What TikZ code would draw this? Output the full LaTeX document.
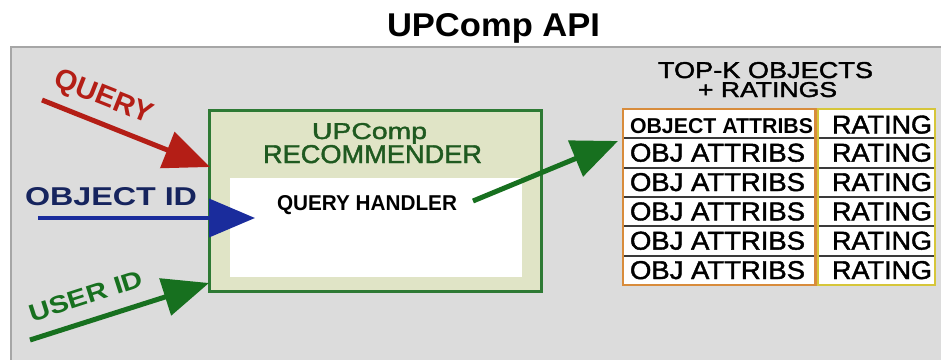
\documentclass[tikz,border=0pt]{standalone}
\usepackage{fontspec}
\setmainfont{Liberation Sans}
\newfontfamily\medfont[FakeBold=1.6]{Liberation Sans}
\usepackage{graphicx}
\usetikzlibrary{arrows.meta}
\definecolor{panelgray}{HTML}{DCDCDC}
\definecolor{paneledge}{HTML}{A6A6A6}
\definecolor{qred}{HTML}{B41E16}
\definecolor{oblue}{HTML}{1A2C9C}
\definecolor{onavy}{HTML}{16245E}
\definecolor{ugreen}{HTML}{17701F}
\definecolor{boxgreen}{HTML}{2E7A34}
\definecolor{boxfill}{HTML}{E0E4C6}
\definecolor{txtgreen}{HTML}{1F5A20}
\definecolor{colorange}{HTML}{D88C3C}
\definecolor{colyellow}{HTML}{D6C63A}
\definecolor{rowgray}{HTML}{3A3A3A}
\newcommand\fitt[3]{\resizebox{#1pt}{#2pt}{#3}}
\tikzset{
  txt/.style={inner sep=0pt, outer sep=0pt, anchor=base west},
  rtxt/.style={inner sep=0pt, outer sep=0pt, anchor=center},
  bigarrow/.style={line width=5pt, -{Triangle[length=46pt,width=38pt]}},
  rowline/.style={draw=rowgray, line width=1.8pt},
}
\begin{document}
\begin{tikzpicture}[x=1pt,y=-1pt]
\useasboundingbox (0,0) rectangle (941,359);
\fill[white] (0,0) rectangle (941,359);
% panel
\draw[fill=panelgray, draw=paneledge, line width=2.6pt] (11,47) rectangle (960,380);
% title
\node[txt] (title) at (387,36) {\fitt{213}{23}{\bfseries UPComp API}};
% recommender box
\draw[fill=boxfill, draw=boxgreen, line width=3pt] (209,110) rectangle (541,291);
\node[inner sep=0pt, fill=white, minimum width=292pt, minimum height=99pt, anchor=north west] (handler) at (230,178) {};
\node[txt, text=txtgreen] (upcomp) at (312,139) {\fitt{115}{16}{\medfont UPComp}};
\node[txt, text=txtgreen] (recom) at (263,163) {\fitt{219}{18}{\medfont RECOMMENDER}};
\node[txt] (qh) at (277,210) {\fitt{180}{15}{\bfseries QUERY HANDLER}};
% table header
\node[txt] (topk) at (658,78) {\fitt{215}{16}{\medfont TOP-K OBJECTS}};
\node[txt] (plusr) at (698,97) {\fitt{139}{15}{\medfont + RATINGS}};
% table
\fill[white] (623,109) rectangle (935,285);
\foreach \yy in {138.3,167.7,197,226.3,255.7} {\draw[rowline] (623,\yy) -- (935,\yy);}
\draw[draw=colorange, line width=2.8pt] (623,109) rectangle (815.5,285);
\draw[draw=colyellow, line width=2.8pt] (818,109) rectangle (935,285);
\node[txt] (a1) at (630,133) {\fitt{183}{15}{\bfseries OBJECT ATTRIBS}};
\node[txt] (r1) at (832,133.5) {\fitt{100}{18}{\medfont RATING}};
\foreach \t/\n in {138.3/2,167.7/3,197/4,226.3/5,255.7/6} {
  \node[txt] (a\n) at (630,\t+23.3) {\fitt{175}{18}{\medfont OBJ ATTRIBS}};
  \node[txt] (r\n) at (832,\t+23.3) {\fitt{100}{18}{\medfont RATING}};
}
% labels
\node[rtxt, rotate=-21.7, text=qred] (qlab) at (103,98) {\fitt{103}{20}{\bfseries QUERY}};
\node[txt, text=onavy] (olab) at (25,205) {\fitt{172}{18}{\bfseries OBJECT ID}};
\node[rtxt, rotate=17.8, text=ugreen] (ulab) at (86,296) {\fitt{118}{17}{\bfseries USER ID}};
% arrow endpoints
\coordinate (qs) at (42,100);
\coordinate (qt) at (210,167);
\coordinate (os) at (38,218);
\coordinate (ot) at (255,218);
\coordinate (us) at (30,340);
\coordinate (ut) at (209,283);
\coordinate (rs) at (473,201);
\coordinate (rt) at (618,141);
\draw[bigarrow, draw=qred, fill=qred] (qs) -- (qt);
\draw[bigarrow, draw=oblue, fill=oblue, line width=4pt] (os) -- (ot);
\draw[bigarrow, draw=ugreen, fill=ugreen] (us) -- (ut);
\draw[bigarrow, draw=ugreen, fill=ugreen] (rs) -- (rt);
\end{tikzpicture}
\end{document}
